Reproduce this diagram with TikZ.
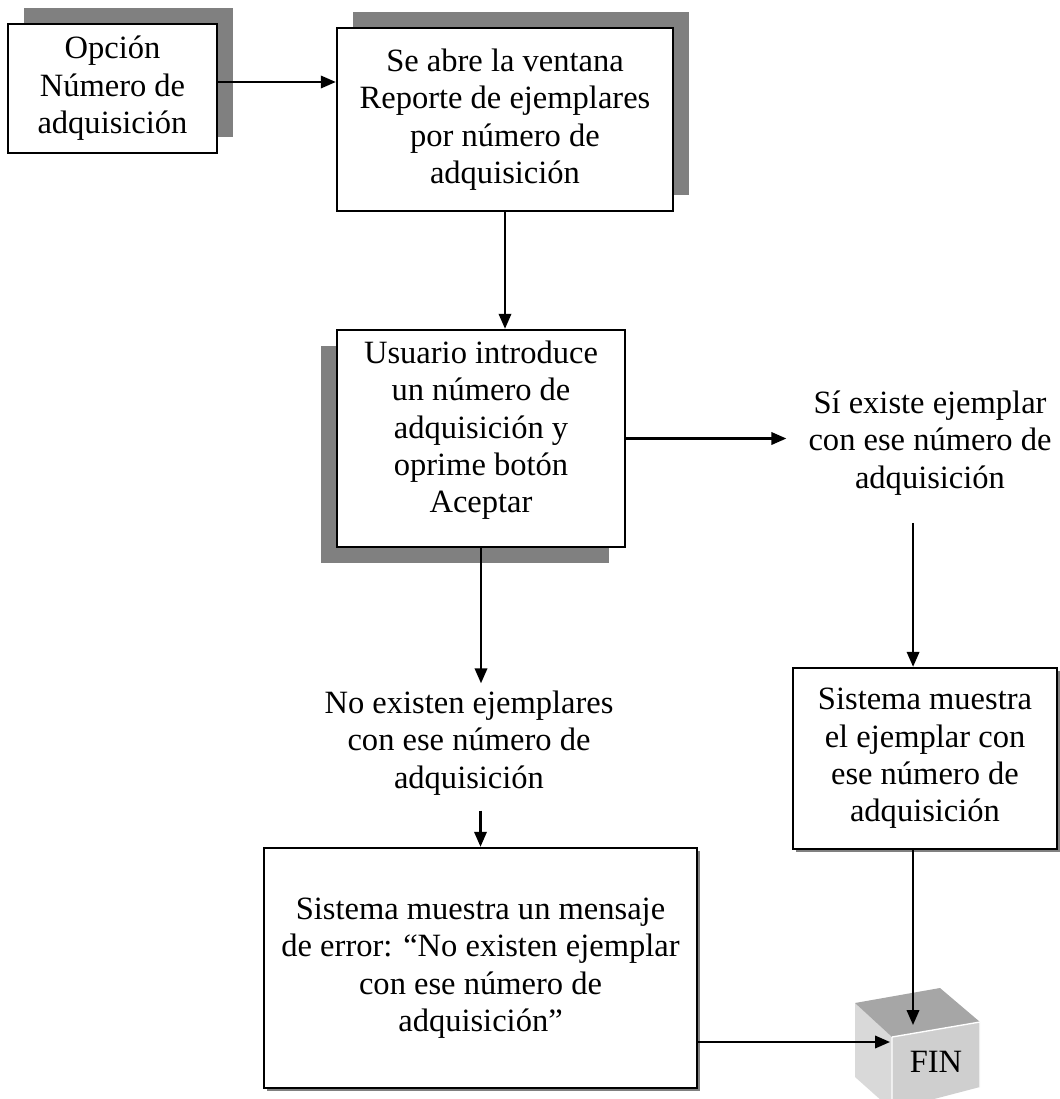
\documentclass[tikz,border=0pt]{standalone}
\usepackage{fontspec}
\setmainfont{Liberation Serif}
\usetikzlibrary{arrows.meta,shadows}
\begin{document}
\begin{tikzpicture}[x=0.369pt,y=-0.369pt,
    txt/.style={align=center,inner sep=0pt,font=\fontsize{12}{13.8}\selectfont},
    box/.style={txt,draw,fill=white,line width=0.9pt},
    shup/.style={drop shadow={shadow xshift=5.9pt,shadow yshift=5.9pt,fill=gray,opacity=1}},
    shdl/.style={drop shadow={shadow xshift=-5.9pt,shadow yshift=-5.9pt,fill=gray,opacity=1}},
    shsm/.style={drop shadow={shadow xshift=1.1pt,shadow yshift=-1.1pt,fill=gray,opacity=1}},
    arr/.style={-{Triangle[length=5.5pt,width=4.6pt]},line width=0.75pt}]
  \path[use as bounding box] (0,0) rectangle (1060,1099);
  \node[box,shup,minimum width=77.1pt,minimum height=47.6pt] (opc) at (112.5,88.5) {Opción\\Número de\\adquisición};
  \node[box,shup,minimum width=124pt,minimum height=67.5pt] (ven) at (505,119.5) {Se abre la ventana\\Reporte de ejemplares\\por número de\\adquisición};
  \node[box,shdl,minimum width=106.3pt,minimum height=80.1pt] (usu) at (481,438.5) {};
  \node[txt] (usutxt) at ([yshift=3pt]usu.center) {Usuario introduce\\un número de\\adquisición y\\oprime botón\\Aceptar};
  \node[txt] (sie) at (930,443) {Sí existe ejemplar\\con ese número de\\adquisición};
  \node[box,shsm,minimum width=97.4pt,minimum height=66.8pt] (most) at (925,758.5) {Sistema muestra\\el ejemplar con\\ese número de\\adquisición};
  \node[txt] (noex) at (469,743) {No existen ejemplares\\con ese número de\\adquisición};
  \node[box,shsm,minimum width=159.8pt,minimum height=88.6pt] (err) at (480.5,968) {Sistema muestra un mensaje\\de error: “No existen ejemplar\\con ese número de\\adquisición”};
  \fill[gray!30] (855,1003) -- (892,1037) -- (892,1110) -- (855,1077) -- cycle;
  \fill[gray!38] (892,1037) -- (980,1022) -- (980,1087) -- (892,1110) -- cycle;
  \fill[gray!70] (855,1003) -- (940,988) -- (980,1022) -- (892,1037) -- cycle;
  \draw[white,line width=0.5pt] (892,1037) -- (892,1110) (892,1037) -- (980,1022) -- (980,1087);
  \node[txt] (fin) at (936,1062) {FIN};
  \coordinate (fintop) at (913,1025);
  \coordinate (finleft) at (890,1042);
  \path ([yshift=2.4pt]opc.east) coordinate (o1);
  \path ([xshift=-4.4pt]most.north) coordinate (m1);
  \draw[arr] (o1) -- (o1 -| ven.west);
  \draw[arr] (ven.south) -- (ven.south |- usu.north);
  \draw[arr,shorten >=8pt] (usu.east) -- (usu.east -| sie.west);
  \draw[arr,shorten <=10pt] (m1 |- sie.south) -- (m1);
  \draw[arr,shorten >=2.6pt] (usu.south) -- (usu.south |- noex.north);
  \draw[arr,shorten <=5.5pt] (err.north |- noex.south) -- (err.north);
  \draw[arr] (fintop |- most.south) -- (fintop);
  \draw[arr] (err.east |- finleft) -- (finleft);
\end{tikzpicture}
\end{document}
